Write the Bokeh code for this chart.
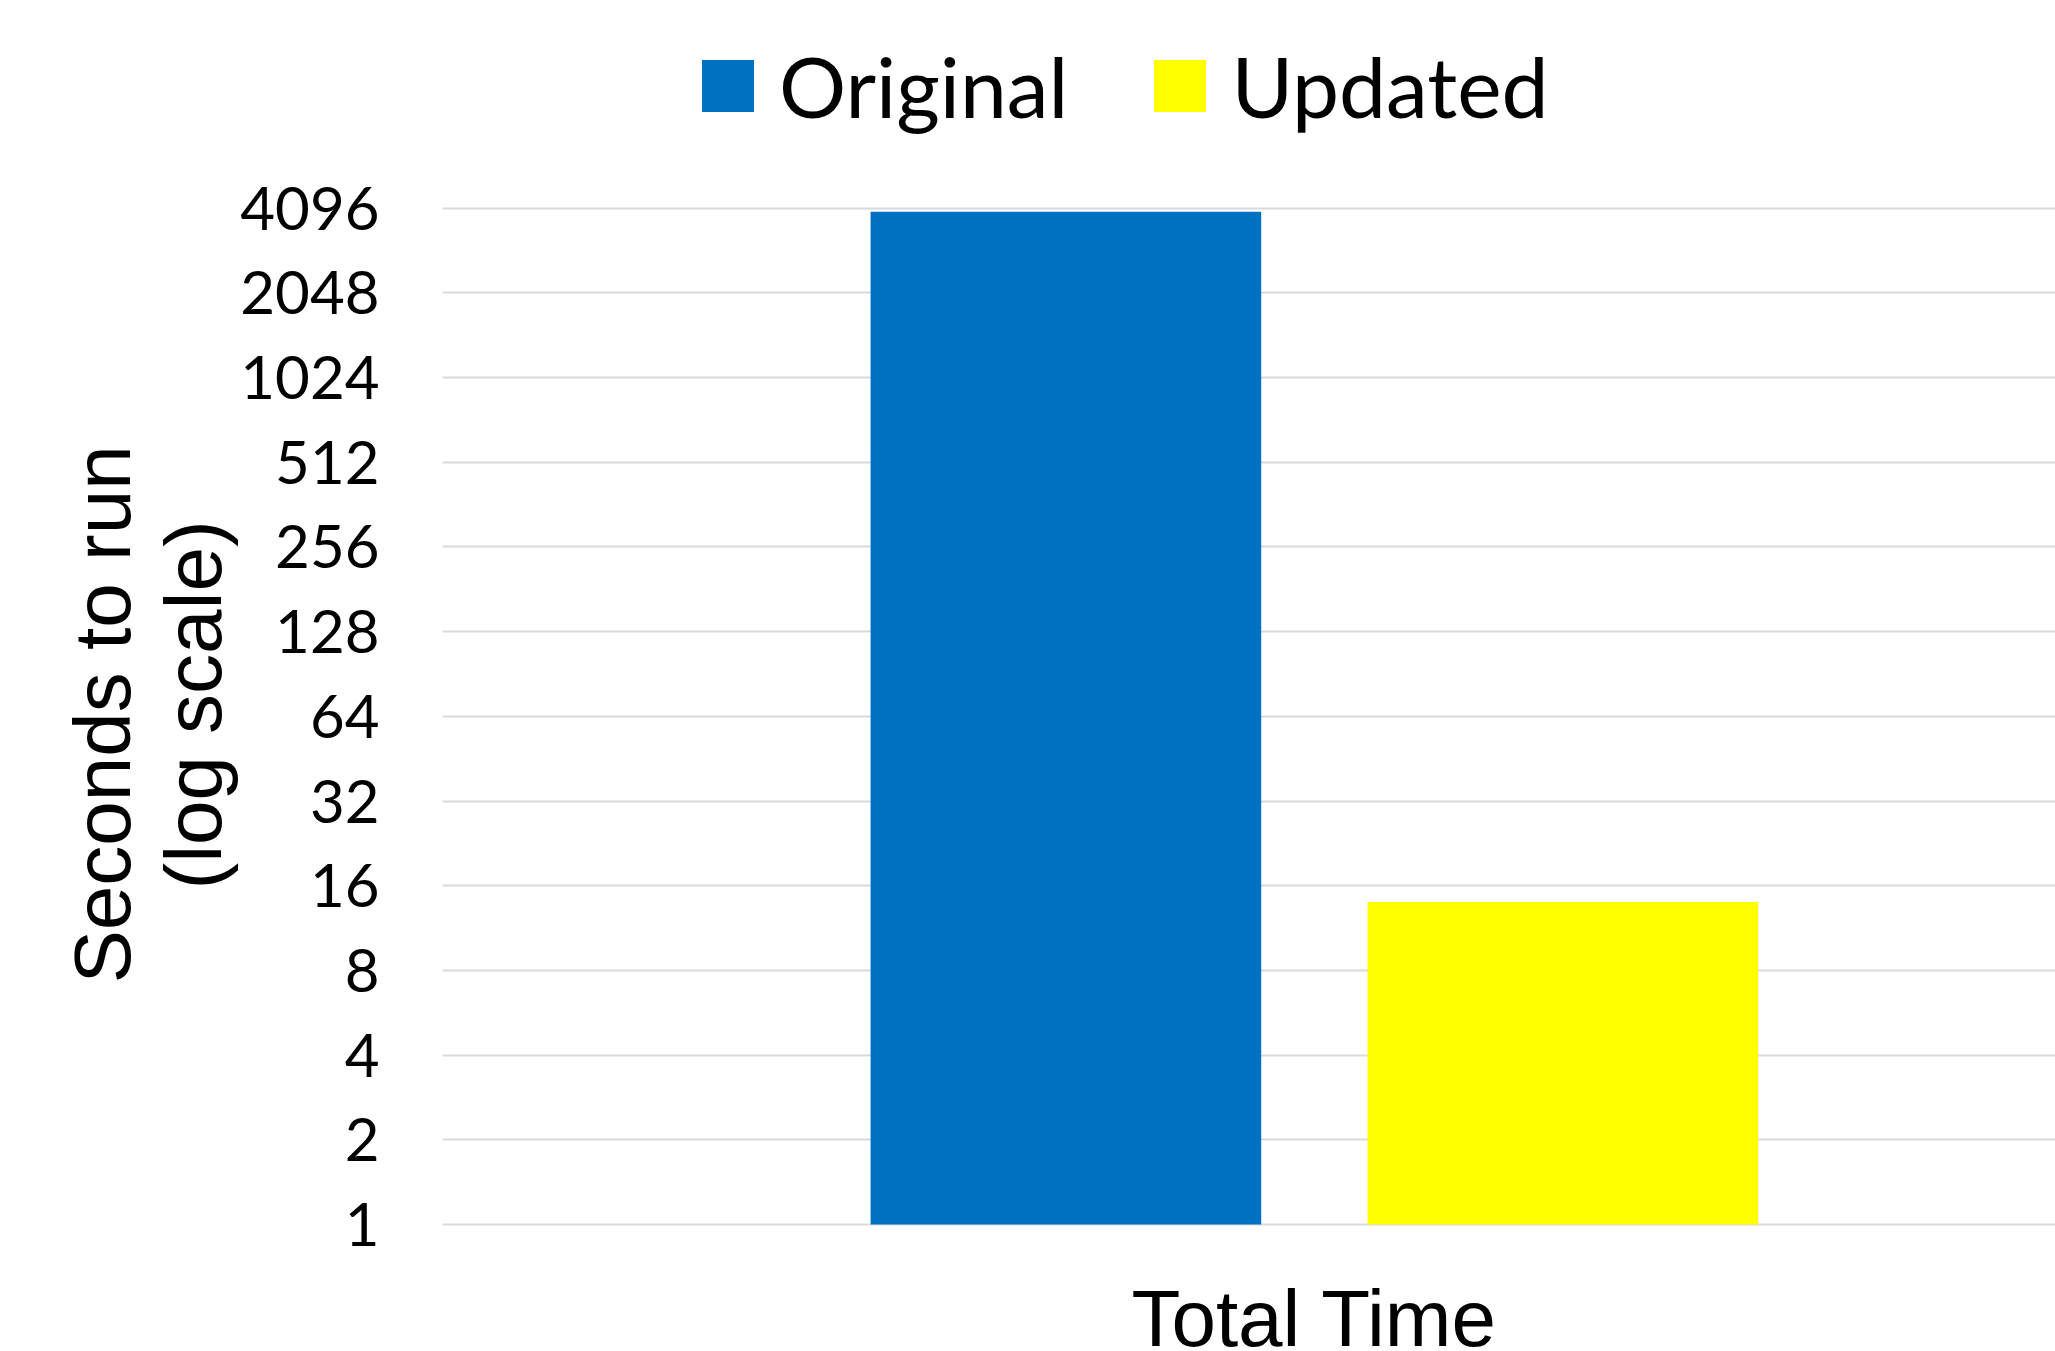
import math

from bokeh.embed import file_html
from bokeh.models import (FixedTicker, Label, Legend, LegendItem, Range1d,
                          ColumnDataSource, Title)
from bokeh.plotting import figure
from bokeh.resources import INLINE

# ---- data -------------------------------------------------------------
categories = ["Total Time"]
series_names = ["Original", "Updated"]
original_seconds = [3980]
updated_seconds = [14]
series_colors = ["#0070C0", "#FFFF00"]
tick_values = [1, 2, 4, 8, 16, 32, 64, 128, 256, 512, 1024, 2048, 4096]
tick_labels = ["1", "2", "4", "8", "16", "32", "64", "128", "256", "512",
               "1024", "2048", "4096"]
y_title_lines = ["Seconds to run", "(log scale)"]

# ---- layout constants --------------------------------------------------
bar_width = 0.224
bar_offset = 0.1425
# vertical extent of the drawing area, in powers of two; the area also holds
# the legend above the top gridline and the category label below the bottom
y_lo_exp, y_hi_exp = -1.5, 14.453

p = figure(
    width=2055, height=1351,
    x_range=Range1d(-0.5, 0.425),
    y_range=Range1d(2 ** y_lo_exp, 2 ** y_hi_exp),
    y_axis_type="log",
    output_backend="svg", toolbar_location=None,
    min_border_left=442, min_border_right=0,
    min_border_top=0, min_border_bottom=0,
)
p.outline_line_color = None
p.background_fill_color = "white"
p.border_fill_color = "white"

# ---- bars ---------------------------------------------------------------
renderers = []
for k, (name, vals, color) in enumerate(
        zip(series_names, [original_seconds, updated_seconds], series_colors)):
    offset = -bar_offset if k == 0 else bar_offset
    src = ColumnDataSource(dict(
        x=[i + offset for i in range(len(categories))],
        top=vals,
        bottom=[tick_values[0]] * len(vals),
    ))
    r = p.vbar(x="x", top="top", bottom="bottom", width=bar_width, source=src,
               fill_color=color, line_color=None)
    renderers.append(r)

# ---- axes / grid --------------------------------------------------------
ticker = FixedTicker(ticks=tick_values, minor_ticks=[])
p.yaxis.ticker = ticker
p.yaxis.major_label_overrides = {v: s for v, s in zip(tick_values, tick_labels)}
p.yaxis.axis_line_color = None
p.yaxis.major_tick_line_color = None
p.yaxis.minor_tick_line_color = None
p.yaxis.major_tick_out = 0
p.yaxis.minor_tick_out = 0
p.yaxis.major_label_standoff = 63
p.yaxis.major_label_text_font = "Lato"
p.yaxis.major_label_text_font_size = "60px"
p.yaxis.major_label_text_color = "black"

p.ygrid.ticker = ticker
p.ygrid.grid_line_color = "#d9d9d9"
p.ygrid.grid_line_width = 2
p.xgrid.grid_line_color = None
p.xaxis.visible = False

# two-line y-axis title, read bottom to top; inner line first
for line, start in zip(reversed(y_title_lines), [462, 368]):
    p.add_layout(Title(
        text=line, align="left", vertical_align="bottom",
        offset=start, standoff=0,
        text_font="Liberation Sans", text_font_size="80px",
        text_font_style="normal", text_color="black",
    ), "left")

# category label under the bars
for i, cat in enumerate(categories):
    p.add_layout(Label(
        x=i, y=tick_values[0], y_offset=-94, text=cat,
        text_align="center", text_baseline="alphabetic",
        text_font="Liberation Sans", text_font_size="80px", text_color="black",
    ))

# ---- legend -------------------------------------------------------------
legend = Legend(
    items=[LegendItem(label=n, renderers=[r]) for n, r in zip(series_names, renderers)],
    orientation="horizontal",
    location=(253, 1215),
    glyph_width=65, glyph_height=65,
    label_standoff=19, spacing=79,
    padding=0, margin=0,
    border_line_color=None, background_fill_alpha=0,
    label_text_font="Lato", label_text_font_size="84px",
    label_text_color="black",
)
p.add_layout(legend, "center")

open("out.html", "w").write(file_html(p, INLINE))
